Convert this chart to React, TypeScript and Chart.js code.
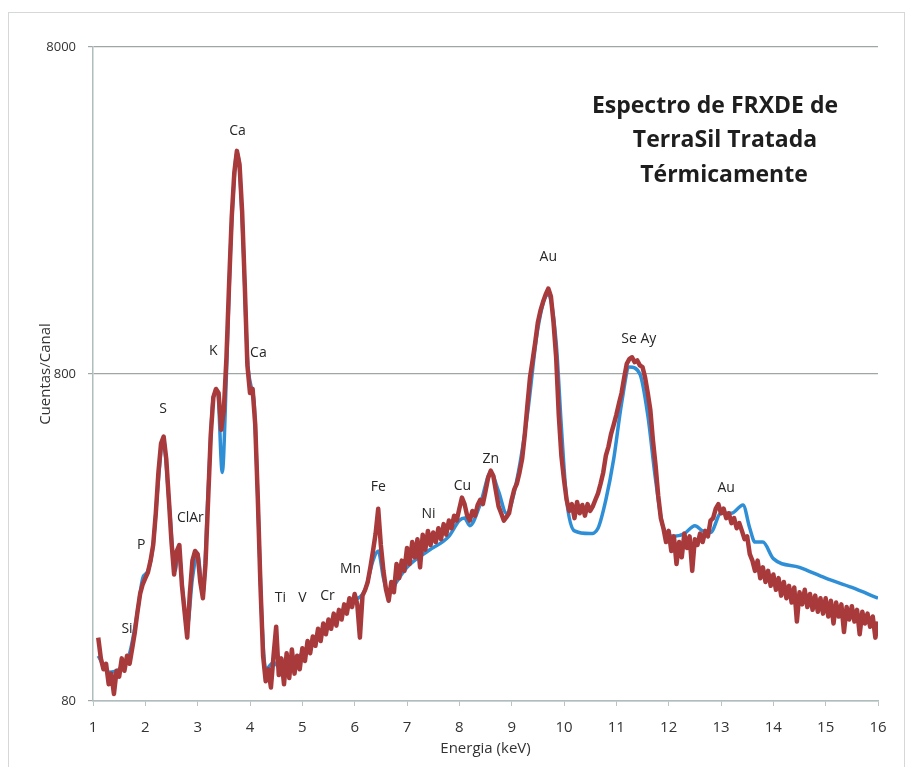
import React, { useEffect, useRef } from "react";
import { Chart, registerables } from "chart.js";

Chart.register(...registerables);

// Measured spectrum: one value per channel, channels 0.05 keV wide starting at 1.10 keV
const MEASURED_START_KEV = 1.1;
const CHANNEL_WIDTH_KEV = 0.05;
const measuredCounts = [
  // 1.10 – 1.95
  125, 108, 100, 104, 90, 97, 84, 99, 95, 108, 99, 110, 104, 116, 130, 150, 170, 182,
  // 2.00 – 2.95
  190, 198, 215, 240, 300, 400, 490, 515, 440, 330, 245, 195, 230, 240, 180, 150, 125, 170, 215, 230,
  // 3.00 – 3.95
  225, 185, 165, 210, 330, 520, 680, 720, 700, 540, 620, 900, 1500, 2400, 3300, 3850, 3500, 2500, 1500, 850,
  // 4.00 – 4.95
  700, 720, 560, 330, 180, 110, 92, 100, 88, 110, 135, 96, 108, 90, 112, 94, 115, 97, 110, 100,
  // 5.00 – 5.95
  116, 106, 122, 112, 126, 118, 133, 122, 138, 128, 142, 133, 148, 136, 152, 142, 158, 148, 165, 155,
  // 6.00 – 6.95
  170, 158, 125, 168, 175, 185, 205, 230, 260, 310, 240, 200, 175, 162, 185, 172, 210, 190, 215, 200,
  // 7.00 – 7.95
  235, 210, 245, 220, 250, 205, 258, 232, 265, 240, 262, 245, 270, 250, 278, 258, 285, 270, 295, 285,
  // 8.00 – 8.95
  310, 335, 320, 295, 285, 305, 295, 318, 330, 320, 350, 385, 405, 390, 350, 315, 300, 285, 292, 300,
  // 9.00 – 9.95
  330, 355, 370, 400, 440, 520, 640, 780, 880, 1000, 1150, 1250, 1330, 1400, 1460, 1380, 1150, 900, 600, 450,
  // 10.00 – 10.95
  380, 330, 305, 320, 290, 325, 300, 318, 295, 320, 305, 315, 330, 345, 370, 400, 450, 480, 525, 560,
  // 11.00 – 11.95
  600, 650, 700, 780, 860, 890, 900, 870, 880, 850, 840, 780, 700, 620, 500, 420, 340, 290, 270, 245,
  // 12.00 – 12.95
  265, 230, 255, 210, 245, 220, 260, 235, 255, 200, 250, 240, 260, 245, 265, 255, 285, 290, 310, 320,
  // 13.00 – 13.95
  300, 310, 290, 300, 280, 290, 270, 280, 265, 250, 255, 225, 215, 200, 215, 190, 205, 185, 200, 180,
  // 14.00 – 14.95
  195, 175, 190, 168, 185, 165, 180, 160, 178, 140, 172, 158, 175, 155, 170, 152, 168, 150, 165, 148,
  // 15.00 – 16.00
  165, 145, 162, 138, 160, 145, 158, 130, 155, 142, 156, 140, 152, 128, 150, 138, 148, 135, 145, 125, 140,
];

// Fitted (smooth) spectrum
const fitEnergy = [
  1.1, 1.3, 1.5, 1.7, 1.85, 1.95, 2.05, 2.15, 2.25, 2.34, 2.45, 2.57, 2.63, 2.72, 2.8, 2.9, 3.0, 3.1, 3.2, 3.3,
  3.38, 3.47, 3.55, 3.62, 3.7, 3.75, 3.8, 3.87, 3.95, 4.03, 4.08, 4.15, 4.22, 4.3, 4.45, 4.6, 4.8, 5.0, 5.3, 5.6,
  5.9, 6.2, 6.35, 6.45, 6.55, 6.65, 6.8, 7.0, 7.4, 7.8, 8.0, 8.1, 8.2, 8.4, 8.6, 8.75, 8.9, 9.1, 9.3, 9.5,
  9.7, 9.85, 9.95, 10.05, 10.2, 10.5, 10.65, 10.8, 10.95, 11.1, 11.25, 11.45, 11.6, 11.75, 11.9, 12.1, 12.3, 12.5, 12.65, 12.8,
  13.0, 13.2, 13.42, 13.55, 13.65, 13.8, 14.0, 14.5, 15.0, 15.5, 16.0,
];
const fitCounts = [
  110, 98, 100, 112, 150, 190, 200, 240, 380, 510, 330, 200, 235, 170, 135, 190, 225, 170, 350, 680,
  710, 400, 800, 1800, 3200, 3800, 3400, 2000, 900, 720, 650, 330, 150, 100, 105, 100, 105, 112, 125, 140,
  160, 175, 215, 230, 190, 170, 185, 205, 230, 255, 285, 290, 275, 320, 400, 350, 300, 380, 600, 1100,
  1400, 1000, 550, 330, 265, 260, 270, 330, 440, 650, 840, 800, 600, 380, 270, 255, 260, 275, 265, 262,
  300, 300, 318, 270, 245, 245, 218, 205, 190, 178, 165,
];

const xTickValues = [1, 2, 3, 4, 5, 6, 7, 8, 9, 10, 11, 12, 13, 14, 15, 16];
const yTickValues = [80, 800, 8000];

// Element labels placed at (energy, counts)
const peakNames = ["Si", "P", "S", "ClAr", "K", "Ca", "Ca", "Ti", "V", "Cr", "Mn", "Fe", "Ni", "Cu", "Zn", "Au", "Se Ay", "Au"];
const peakEnergy = [1.65, 1.92, 2.34, 2.86, 3.3, 3.76, 4.16, 4.58, 5.0, 5.48, 5.92, 6.45, 7.41, 8.06, 8.6, 9.7, 11.43, 13.1];
const peakCounts = [133, 240, 624, 290, 943, 4440, 930, 165, 165, 167, 202, 361, 298, 363, 440, 1817, 1024, 358];

const titleLines = ["Espectro de FRXDE de", "TerraSil Tratada", "Térmicamente"];

const FONT = '"Open Sans", "DejaVu Sans", sans-serif';

const overlayPlugin = {
  id: "overlay",
  beforeDraw(chart: any) {
    const { ctx, width, height } = chart;
    ctx.save();
    ctx.fillStyle = "#ffffff";
    ctx.fillRect(0, 0, width, height);
    ctx.strokeStyle = "#d4d8d8";
    ctx.lineWidth = 1;
    ctx.strokeRect(8.5, 12.5, width - 13, height - 10);
    ctx.restore();
  },
  afterDatasetsDraw(chart: any) {
    const { ctx } = chart;
    const xs = chart.scales.x;
    const ys = chart.scales.y;
    ctx.save();
    ctx.fillStyle = "#262626";
    ctx.textAlign = "center";
    ctx.textBaseline = "middle";
    ctx.font = `14px ${FONT}`;
    peakNames.forEach((name, i) => {
      ctx.fillText(name, xs.getPixelForValue(peakEnergy[i]), ys.getPixelForValue(peakCounts[i]));
    });
    ctx.font = `bold 23px ${FONT}`;
    ctx.fillStyle = "#1e1e1e";
    const cx = [715, 725, 724];
    titleLines.forEach((line, i) => {
      ctx.fillText(line, cx[i], 106 + i * 34.5);
    });
    ctx.restore();
  },
};

export default function App() {
  const canvasRef = useRef<HTMLCanvasElement | null>(null);

  useEffect(() => {
    const canvas = canvasRef.current;
    if (!canvas) return;
    const measuredPoints = measuredCounts.map((c, i) => ({
      x: MEASURED_START_KEV + i * CHANNEL_WIDTH_KEV,
      y: c,
    }));
    const fitPoints = fitCounts.map((c, i) => ({ x: fitEnergy[i], y: c }));

    const chart = new Chart(canvas, {
      type: "line",
      data: {
        datasets: [
          {
            label: "Medido",
            data: measuredPoints,
            borderColor: "#a83a3c",
            borderWidth: 4.5,
            pointRadius: 0,
            tension: 0,
            fill: false,
            borderJoinStyle: "round",
          },
          {
            label: "Ajuste",
            data: fitPoints,
            borderColor: "#2f8fd6",
            borderWidth: 3.5,
            pointRadius: 0,
            tension: 0.4,
            cubicInterpolationMode: "monotone",
            fill: false,
          },
        ],
      },
      options: {
        responsive: false,
        animation: false,
        layout: { padding: { left: 0, top: 47, right: 31, bottom: 0 } },
        plugins: {
          legend: { display: false },
          tooltip: { enabled: false },
          title: { display: false },
        },
        scales: {
          x: {
            type: "linear",
            min: 1,
            max: 16,
            afterBuildTicks: (scale: any) => {
              scale.ticks = xTickValues.map((v) => ({ value: v }));
            },
            afterFit: (scale: any) => {
              scale.height = 66;
            },
            ticks: {
              color: "#333333",
              font: { family: FONT, size: 15 },
              padding: 13,
              maxRotation: 0,
              autoSkip: false,
              callback: (v: any) => String(v),
            },
            grid: {
              drawOnChartArea: false,
              drawTicks: true,
              tickLength: 5,
              color: "#b9c4c6",
            },
            border: { display: true, color: "#b0bcbe", width: 1.5 },
            title: {
              display: true,
              text: "Energia (keV)",
              color: "#333333",
              font: { family: FONT, size: 15 },
              padding: { top: 0, bottom: 9 },
            },
          },
          y: {
            type: "logarithmic",
            min: 80,
            max: 8000,
            afterBuildTicks: (scale: any) => {
              scale.ticks = yTickValues.map((v) => ({ value: v }));
            },
            afterFit: (scale: any) => {
              scale.width = 93;
            },
            ticks: {
              color: "#333333",
              font: { family: FONT, size: 13 },
              padding: 12,
              autoSkip: false,
              callback: (v: any) => String(v),
            },
            grid: {
              drawOnChartArea: true,
              drawTicks: true,
              tickLength: 5,
              color: "#9fa6a6",
              lineWidth: 1.2,
            },
            border: { display: true, color: "#b0bcbe", width: 1.5 },
            title: {
              display: true,
              text: "Cuentas/Canal",
              color: "#333333",
              font: { family: FONT, size: 15 },
              padding: { top: 37, bottom: 0 },
            },
          },
        },
      },
      plugins: [overlayPlugin],
    });

    return () => {
      chart.destroy();
    };
  }, []);

  return (
    <div style={{ position: "absolute", left: 0, top: 0, width: 909, height: 767 }}>
      <canvas ref={canvasRef} width={909} height={767} style={{ display: "block" }} />
    </div>
  );
}
